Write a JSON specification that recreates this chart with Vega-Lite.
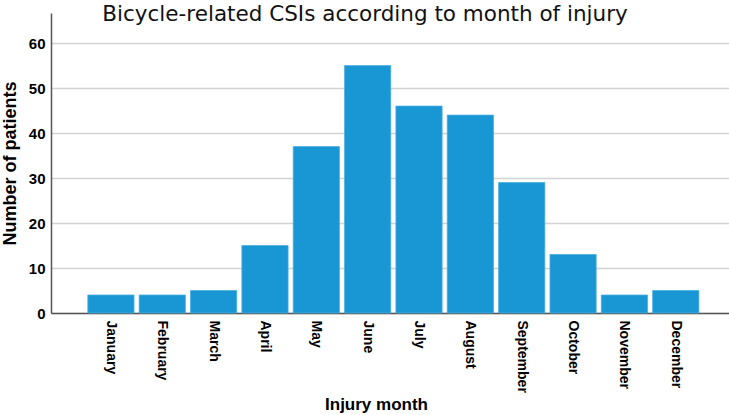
{
  "$schema": "https://vega.github.io/schema/vega-lite/v6.json",
  "width": 678,
  "height": 300,
  "autosize": "none",
  "padding": {"left": 51, "top": 13, "right": 0, "bottom": 102},
  "background": "white",
  "title": {
    "text": "Bicycle-related CSIs according to month of injury",
    "font": "DejaVu Sans",
    "fontSize": 21.5,
    "fontWeight": "normal",
    "color": "#111111",
    "anchor": "middle",
    "dx": -25,
    "dy": 23,
    "baseline": "alphabetic",
    "offset": -6
  },
  "data": {
    "values": [
      {"month": "January", "n": 4},
      {"month": "February", "n": 4},
      {"month": "March", "n": 5},
      {"month": "April", "n": 15},
      {"month": "May", "n": 37},
      {"month": "June", "n": 55},
      {"month": "July", "n": 46},
      {"month": "August", "n": 44},
      {"month": "September", "n": 29},
      {"month": "October", "n": 13},
      {"month": "November", "n": 4},
      {"month": "December", "n": 5}
    ]
  },
  "config": {
    "view": {"stroke": null},
    "axis": {
      "labelFont": "Liberation Sans",
      "titleFont": "Liberation Sans",
      "labelFontWeight": "bold",
      "titleFontWeight": "bold",
      "labelColor": "#000000",
      "titleColor": "#000000",
      "domainColor": "#555555",
      "domainWidth": 1.5,
      "ticks": false
    }
  },
  "mark": {"type": "bar", "color": "#1996d4", "stroke": "#4aaee0", "strokeWidth": 0.8},
  "encoding": {
    "x": {
      "field": "month",
      "type": "nominal",
      "sort": null,
      "scale": {"paddingInner": 0.1, "paddingOuter": 0.652, "align": 0.55},
      "axis": {
        "title": "Injury month",
        "labelAngle": 90,
        "labelAlign": "left",
        "labelBaseline": "middle",
        "labelFontSize": 14,
        "labelPadding": 7,
        "titleFontSize": 17,
        "titlePadding": 4,
        "titleX": 325,
        "grid": false
      }
    },
    "y": {
      "field": "n",
      "type": "quantitative",
      "scale": {"domain": [0, 66.7], "nice": false},
      "axis": {
        "title": "Number of patients",
        "values": [0, 10, 20, 30, 40, 50, 60],
        "labelFontSize": 15,
        "labelPadding": 6,
        "titleFontSize": 18,
        "titlePadding": 9,
        "grid": true,
        "gridColor": "#d3d3d3",
        "gridWidth": 1.5
      }
    }
  }
}
